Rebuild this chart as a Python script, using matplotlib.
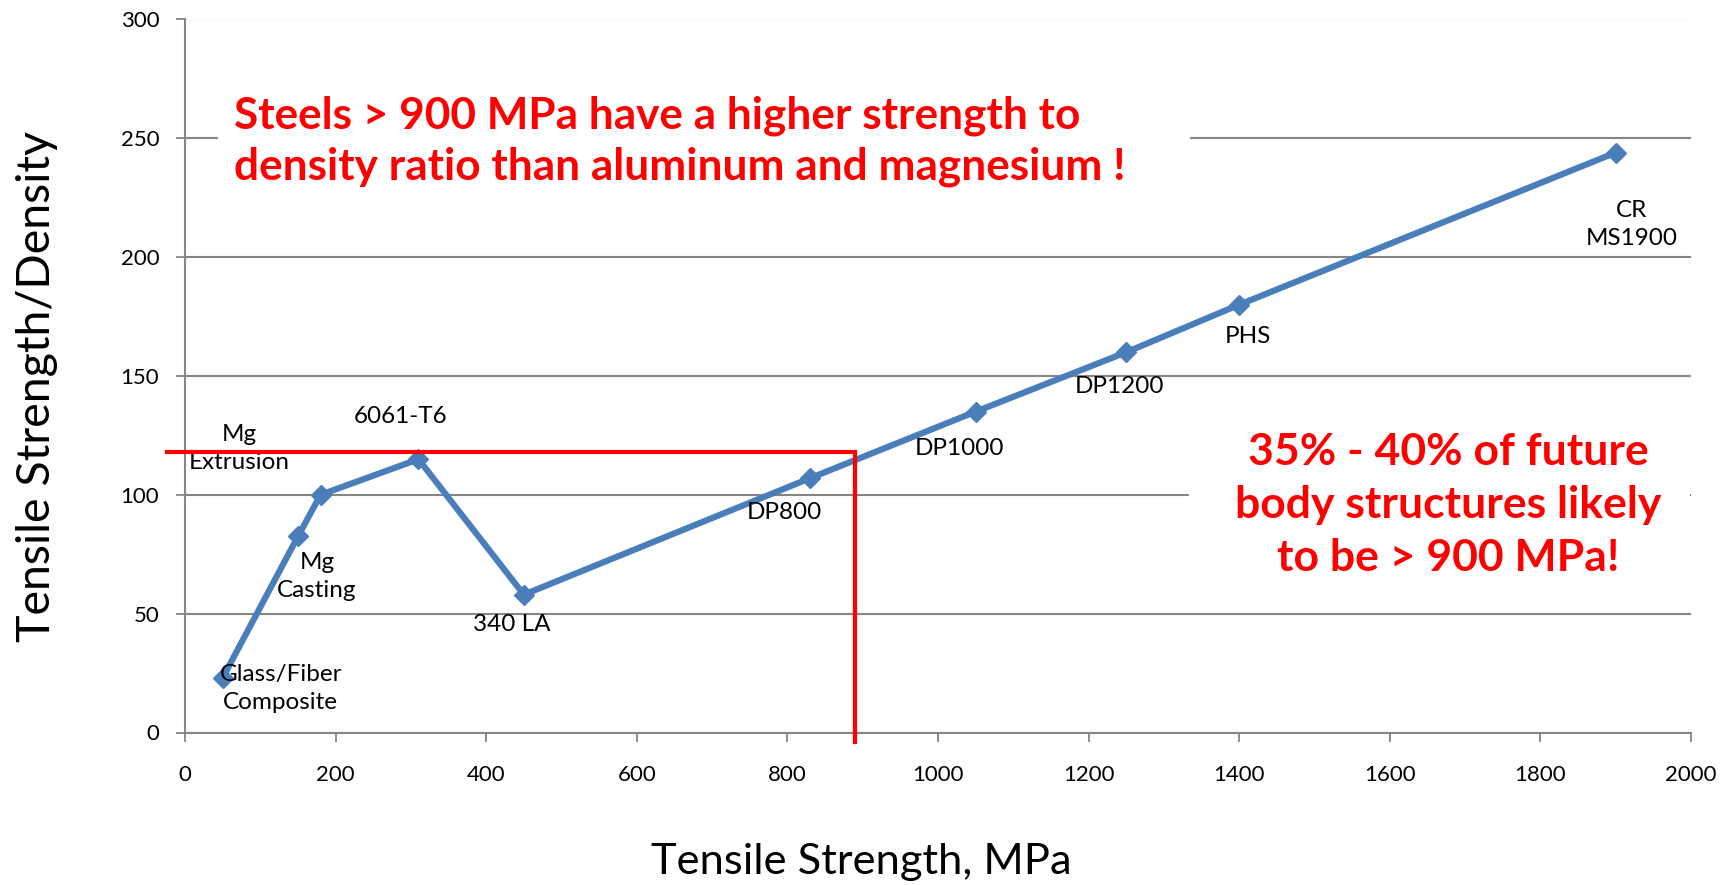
import matplotlib
matplotlib.use("Agg")
import matplotlib.pyplot as plt
from matplotlib.patches import Rectangle

# ---- data ----
tensile_strength = [50, 150, 180, 310, 450, 830, 1050, 1250, 1400, 1900]
strength_density = [23, 82.5, 100, 115, 58, 107, 135, 160, 180, 244]
labels = ["Glass/Fiber\nComposite", "Mg\nCasting", "Mg\nExtrusion", "6061-T6", "340 LA",
          "DP800", "DP1000", "DP1200", "PHS", "CR\nMS1900"]
# label offsets in pixels (dx, dy) relative to each point
label_offsets = [(58, -11), (19, -40), (-81, 46), (-18, 43), (-12, -30),
                 (-26, -34), (-16, -37), (-7, -34), (9, -32), (16, -72)]
x_ticks = [0, 200, 400, 600, 800, 1000, 1200, 1400, 1600, 1800, 2000]
y_ticks = [0, 50, 100, 150, 200, 250, 300]
threshold_x = 890
threshold_y = 118
threshold_x_start = -24
threshold_y_end = -4

x_title = "Tensile Strength, MPa"
y_title = "Tensile Strength/Density"
note_top = "Steels > 900 MPa have a higher strength to\ndensity ratio than aluminum and magnesium !"
note_right = "35% - 40% of future\nbody structures likely\nto be > 900 MPa!"

W, H = 1733, 885
plt.rcParams['font.family'] = ['Lato', 'DejaVu Sans']

fig = plt.figure(figsize=(W / 100, H / 100), dpi=100)
left, right, top, bottom = 185, 1691, 19.5, 732.5
ax = fig.add_axes([left / W, 1 - bottom / H, (right - left) / W, (bottom - top) / H])

grey = '#868686'
ax.set_xlim(0, 2000)
ax.set_ylim(0, 300)
ax.set_xticks(x_ticks)
ax.set_yticks(y_ticks)
ax.set_axisbelow(True)
ax.grid(axis='y', color=grey, lw=1.5)
ax.grid(axis='x', visible=False)
for s in ['top', 'right']:
    ax.spines[s].set_visible(False)
for s in ['left', 'bottom']:
    ax.spines[s].set_color(grey)
    ax.spines[s].set_linewidth(1.5)
ax.tick_params(axis='both', direction='out', length=6.5, width=1.3, color=grey,
               labelsize=16, labelcolor='black')
ax.tick_params(axis='y', pad=12)
ax.tick_params(axis='x', pad=17)

# white boxes behind notes (cover gridlines)
for (x0, y0, x1, y1) in [(218, 70, 1190, 210), (1189, 385, 1690, 605)]:
    fig.patches.append(Rectangle((x0 / W, 1 - y1 / H), (x1 - x0) / W, (y1 - y0) / H,
                                 transform=fig.transFigure, facecolor='white',
                                 edgecolor='none', zorder=1.5))

ax.plot(tensile_strength, strength_density, color='#4A7EBB', lw=4.5, marker='D',
        markersize=10, zorder=3)

for x, y, lab, (dx, dy) in zip(tensile_strength, strength_density, labels, label_offsets):
    ax.annotate(lab, (x, y), xytext=(dx, dy), textcoords='offset pixels',
                ha='center', va='center', fontsize=17.5, linespacing=1.4, zorder=4)

# threshold lines
ax.plot([threshold_x_start, threshold_x, threshold_x],
        [threshold_y, threshold_y, threshold_y_end],
        color='#FF0000', lw=3, clip_on=False, zorder=5, solid_joinstyle='miter')

fig.text(234 / W, 1 - 141.5 / H, note_top, color='#FF0000', fontsize=31.8,
         fontweight='bold', ha='left', va='center', linespacing=1.32, zorder=6)
fig.text(1448 / W, 1 - 505 / H, note_right, color='#FF0000', fontsize=32,
         fontweight='bold', ha='center', va='center', linespacing=1.4, zorder=6)

fig.text(861 / W, 1 - 862 / H, x_title, fontsize=31.3, ha='center', va='center')
fig.text(37 / W, 1 - 387 / H, y_title, fontsize=33.5, ha='center', va='center', rotation=90)

fig.savefig('out.png', dpi=100)
